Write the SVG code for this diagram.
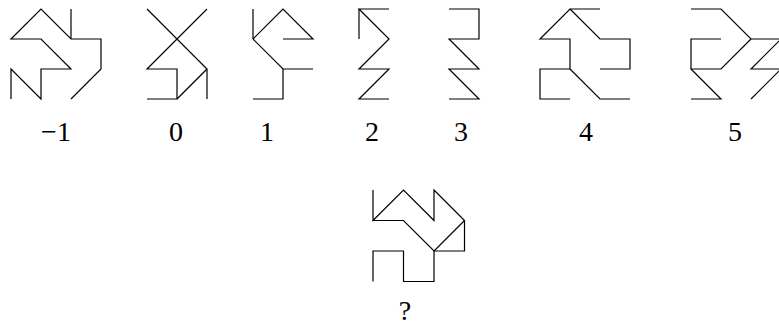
<svg xmlns="http://www.w3.org/2000/svg" width="779" height="329" viewBox="0 0 779 329">
<style>
.s{fill:none;stroke:#000;stroke-width:1.2;stroke-linejoin:miter;stroke-linecap:butt}
.t{font-family:"Liberation Serif","DejaVu Serif",serif;font-size:28px;fill:#000;text-anchor:middle}
</style>
<rect width="779" height="329" fill="#fff"/>
<g id="connectors">
<g id="fig-m1" class="s">
<polyline points="11,99 11,69 41,99 41,69 71,69 41,39 11,39 41,9 71,39 101,39 101,69 71,99"/>
<line x1="71" y1="9" x2="71" y2="39"/>
</g>
<g id="fig-0" class="s">
<polyline points="207,9 147,69 177,69 177,99 147,99"/>
<polyline points="147,9 207,69 207,99"/>
<line x1="177" y1="99" x2="207" y2="69"/>
</g>
<g id="fig-1" class="s">
<line x1="253" y1="9" x2="253" y2="39"/>
<polyline points="253,39 283,9 313,39 283,39"/>
<polyline points="253,39 283,69 313,69"/>
<polyline points="283,69 283,99 253,99"/>
</g>
<g id="fig-2" class="s">
<polyline points="389,9 359,9 389,39 359,69 389,69 359,99 389,99"/>
<line x1="359" y1="9" x2="359" y2="39"/>
</g>
<g id="fig-3" class="s">
<polyline points="449,9 479,9 479,39 449,39 479,69 449,69 479,99 449,99"/>
</g>
<g id="fig-4" class="s">
<polyline points="600,9 570,9 540,39 570,39 570,69 540,69 540,99 570,99"/>
<polyline points="570,9 600,39 630,39 630,69 600,69"/>
<polyline points="570,69 600,99 630,99"/>
</g>
<g id="fig-5" class="s">
<polyline points="691,9 721,9 751,39 781,39"/>
<polyline points="751,39 721,69 691,69 691,39 721,39"/>
<polyline points="691,69 721,99 691,99"/>
<polyline points="781,39 751,69 781,69 751,99"/>
</g>
<g id="fig-q" class="s">
<polyline points="373,190 373,220.5 403.5,190 434,220.5 434,190 464.5,220.5 464.5,251 434,251 403.5,220.5 373,220.5"/>
<polyline points="464.5,220.5 434,251 434,281.5 403.5,281.5 403.5,251 373,251 373,281.5"/>
</g>
</g>
<g id="labels">
<text id="l-m1" class="t" x="56" y="141">−1</text>
<text id="l-0" class="t" x="176" y="141">0</text>
<text id="l-1" class="t" x="267" y="141">1</text>
<text id="l-2" class="t" x="372" y="141">2</text>
<text id="l-3" class="t" x="461" y="141">3</text>
<text id="l-4" class="t" x="586" y="141">4</text>
<text id="l-5" class="t" x="735" y="141">5</text>
<text id="l-q" class="t" x="405" y="320">?</text>
</g>
</svg>
